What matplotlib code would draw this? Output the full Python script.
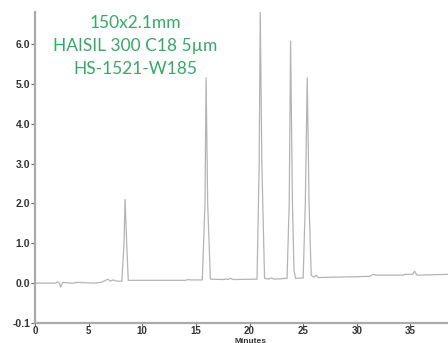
import numpy as np
import matplotlib
matplotlib.use("Agg")
import matplotlib.pyplot as plt

# trace points (minutes, signal)
minutes = [0.0, 1.9, 2.1, 2.3, 2.4, 2.6, 2.9, 3.5, 4.0, 4.6, 5.5, 6.2, 6.8, 7.0, 7.3,
           7.6, 8.1, 8.3, 8.4, 8.55, 8.7, 14.0, 14.3, 14.5, 15.6, 15.85, 15.95, 16.1,
           16.35, 17.5, 17.8, 18.0, 18.2, 18.5, 20.7, 20.9, 21.0, 21.15, 21.4, 21.8,
           22.0, 22.3, 23.5, 23.7, 23.83, 24.0, 24.15, 24.3, 25.0, 25.2, 25.38, 25.55,
           25.75, 26.0, 26.2, 26.4, 31.2, 31.5, 31.8, 34.3, 34.5, 35.2, 35.4, 35.6, 38.5]
signal = [0.0, 0.0, 0.03, 0.0, -0.01, 0.02, 0.01, 0.0, 0.02, 0.01, 0.0, 0.02, 0.1, 0.05, 0.08,
          0.05, 0.05, 1.0, 2.1, 1.0, 0.07, 0.07, 0.09, 0.08, 0.08, 2.0, 5.15, 2.0,
          0.1, 0.09, 0.1, 0.09, 0.12, 0.09, 0.1, 3.0, 6.8, 3.0, 0.12, 0.1,
          0.13, 0.1, 0.12, 2.0, 6.07, 2.0, 0.3, 0.12, 0.13, 2.0, 5.15, 2.0,
          0.2, 0.15, 0.2, 0.14, 0.17, 0.22, 0.2, 0.2, 0.22, 0.22, 0.3, 0.2, 0.22]

y_ticks = [-0.1, 0.0, 1.0, 2.0, 3.0, 4.0, 5.0, 6.0]
x_ticks = [0, 5, 10, 15, 20, 25, 30, 35]
labels = ["150x2.1mm", "HAISIL 300 C18 5µm", "HS-1521-W185"]


def fwd(y):
    y = np.asarray(y, dtype=float)
    return np.where(y < 0, y * 10, y)


def inv(y):
    y = np.asarray(y, dtype=float)
    return np.where(y < 0, y / 10, y)


fig = plt.figure(figsize=(4.48, 3.43), dpi=100)
ax = fig.add_axes([0.078, 0.0583, 0.922, 0.9067])
ax.plot(minutes, signal, color="#b4b4b4", lw=0.9)
ax.set_yscale("function", functions=(fwd, inv))
ax.set_xlim(0, 38.5)
ax.set_ylim(-0.1, 6.8)
ax.set_yticks(y_ticks)
ax.set_yticklabels(["%.1f" % v for v in y_ticks])
ax.set_xticks(x_ticks)
ax.minorticks_off()

for s in ["top", "right"]:
    ax.spines[s].set_visible(False)
for s in ["left", "bottom"]:
    ax.spines[s].set_color("#aaaaaa")
    ax.spines[s].set_linewidth(1.6)
ax.tick_params(length=3, width=0.8, color="#666666", pad=0.5, labelsize=7.5,
               labelcolor="#333333")
ax.tick_params(axis="x", length=2, pad=0, labelsize=7)
for t in ax.get_xticklabels() + ax.get_yticklabels():
    t.set_fontweight("bold")
    t.set_family("Liberation Sans")
ax.set_xlabel("Minutes", fontsize=6, fontweight="bold", family="Liberation Sans",
              color="#333333", va="baseline")
ax.xaxis.set_label_coords(0.523, -0.0633)

for i, txt in enumerate(labels):
    fig.text(135 / 448, 1 - (23 + 23 * i) / 343, txt, ha="center", va="center",
             fontsize=12.5, color="#34aa66", family="Lato")

fig.savefig("out.png", dpi=100)
